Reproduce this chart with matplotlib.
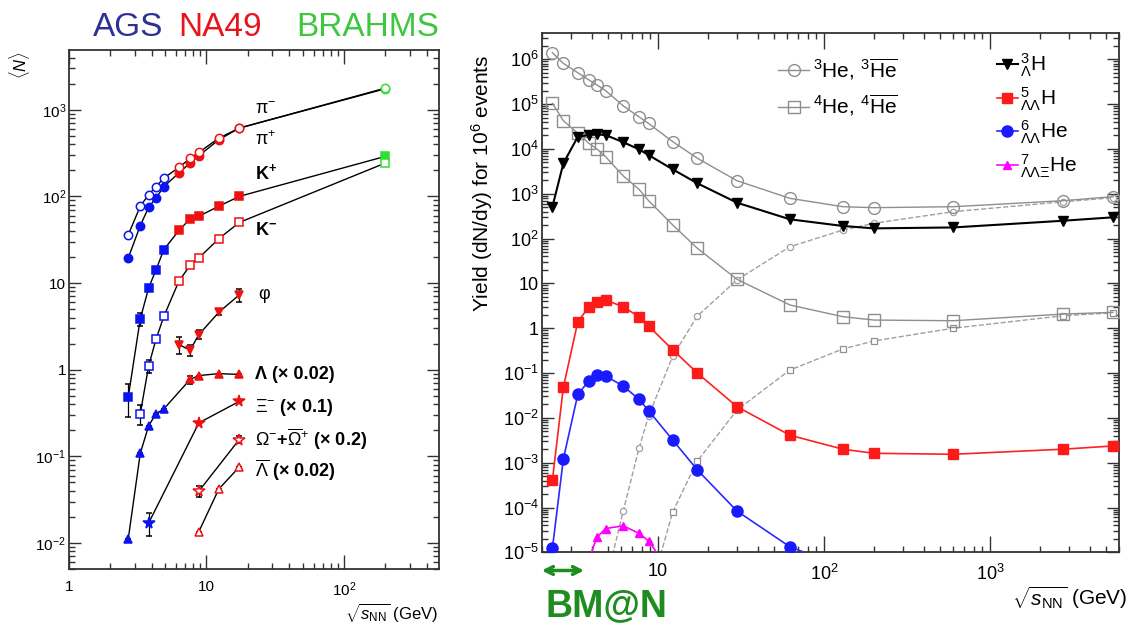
import numpy as np
import matplotlib.pyplot as plt
from matplotlib.ticker import LogLocator, FuncFormatter, NullFormatter

plt.rcParams['font.family'] = ['Liberation Sans', 'DejaVu Sans']
plt.rcParams['mathtext.fontset'] = 'custom'
plt.rcParams['mathtext.rm'] = 'Liberation Sans'
plt.rcParams['mathtext.it'] = 'Liberation Sans:italic'
plt.rcParams['mathtext.bf'] = 'Liberation Sans:bold'

nan = np.nan

# ---- left panel: mean multiplicities <N> vs sqrt(s_NN) ----
snn_left = [2.7, 3.3, 3.8, 4.3, 4.9, 6.3, 7.6, 8.8, 12.3, 17.3, 200]
experiment = ['AGS'] * 5 + ['NA49'] * 5 + ['BRAHMS']

pi_minus = [36, 77, 105, 130, 163, 216, 275, 322, 471, 614, 1780]
pi_plus = [19.5, 46, 75, 96, 130, 186, 243, 295, 451, 614, 1750]
k_plus = [0.485, 3.86, 8.8, 14.3, 24.3, 40.5, 55, 59, 77, 100, 290]
k_minus = [nan, 0.31, 1.11, 2.26, 4.13, 10.5, 16, 19.5, 32.5, 50, 243]
phi = [nan, nan, nan, nan, nan, 1.95, 1.68, 2.54, 4.6, 7.3, nan]
lam = [0.0112, 0.108, 0.226, 0.31, 0.353, nan, 0.77, 0.855, 0.9, 0.88, nan]
xi = [nan, nan, 0.017, nan, nan, nan, nan, 0.243, nan, 0.43, nan]
omega = [nan, nan, nan, nan, nan, nan, nan, 0.0396, nan, 0.156, nan]
lam_bar = [nan, nan, nan, nan, nan, nan, nan, 0.0135, 0.042, 0.075, nan]

k_plus_err = [0.2, 0.7, 0.6, 0.8, 0, 0, 0, 0, 0, 0, 0]
k_minus_err = [0, 0.08, 0.2, 0.2, 0, 0, 0, 0, 0, 0, 0]
phi_err = [0, 0, 0, 0, 0, 0.45, 0.25, 0.3, 0.3, 1.2, 0]
lam_err = [0, 0, 0, 0, 0, 0, 0.08, 0, 0, 0, 0]
xi_err = [0, 0, 0.005, 0, 0, 0, 0, 0, 0, 0, 0]
omega_err = [0, 0, 0, 0, 0, 0, 0, 0.006, 0, 0.015, 0]

exp_colors = {'AGS': '#0a14f0', 'NA49': '#ee1111', 'BRAHMS': '#33dd33'}

# ---- right panel: yields of light (hyper)nuclei for 10^6 events ----
snn_right = [2.32, 2.7, 3.3, 3.85, 4.3, 4.85, 6.2, 7.7, 8.8, 12.3, 17.3,
             30, 62.4, 130, 200, 600, 2760, 5500]
he3 = [1.4e6, 8.1e5, 5.0e5, 3.45e5, 2.67e5, 2.0e5, 9.1e4, 5.2e4, 3.7e4,
       1.45e4, 6.2e3, 1.95e3, 790, 514, 489, 514, 700, 860]
he4 = [1.04e5, 4.27e4, 2.23e4, 1.33e4, 9.95e3, 6.7e3, 2.49e3, 1.26e3, 700,
       201, 60.7, 12.3, 3.3, 1.81, 1.52, 1.47, 2.07, 2.26]
he3_bar = [nan, nan, nan, nan, nan, 2e-6, 8.5e-5, 2.09e-3, 0.011, 0.24,
           1.87, 12, 65.8, 155, 219, 398, 663, 815]
he4_bar = [nan, nan, nan, nan, nan, nan, nan, nan, 1e-6, 8e-5, 1.09e-3,
           0.015, 0.117, 0.344, 0.52, 1.0, 1.9, 2.2]
h3_l = [514, 4780, 1.87e4, 2.04e4, 2.1e4, 2.04e4, 1.41e4, 9.8e3, 7.3e3,
        3.5e3, 1.71e3, 631, 269, 191, 169, 177, 250, 298]
h5_ll = [4.1e-4, 0.048, 1.4, 3.0, 3.9, 4.25, 3.0, 1.8, 1.12, 0.33, 0.1,
         0.0177, 4.1e-3, 2.0e-3, 1.62e-3, 1.54e-3, 2.0e-3, 2.36e-3]
he6_ll = [1.23e-5, 1.21e-3, 0.0335, 0.067, 0.09, 0.086, 0.051, 0.026,
          0.0145, 3.2e-3, 6.9e-4, 8.3e-5, 1.33e-5, 4.7e-6, nan, nan, nan, nan]
he7_llxi = [nan, nan, nan, 7e-6, 2.16e-5, 3.4e-5, 3.9e-5, 2.65e-5, 1.8e-5,
            3e-6, nan, nan, nan, nan, nan, nan, nan, nan]
bmn_range = [2.0, 3.6]


def root_log_for(lo, hi):
    # ROOT style decade labels: 1, 10, 10^n; nothing outside the axis range
    def fmt(v, pos):
        if v < lo * 0.999 or v > hi * 1.001:
            return ''
        e = int(round(np.log10(v)))
        if e == 0:
            return '1'
        if e == 1:
            return '10'
        return r'$10^{%d}$' % e
    return FuncFormatter(fmt)


def style_axes(ax, xlim, ylim, xmaj, ymaj, minor, fs):
    ax.set_xscale('log')
    ax.set_yscale('log')
    ax.set_xlim(*xlim)
    ax.set_ylim(*ylim)
    for a, lims in ((ax.xaxis, xlim), (ax.yaxis, ylim)):
        a.set_major_locator(LogLocator(base=10, numticks=30))
        a.set_minor_locator(LogLocator(base=10, subs=np.arange(2, 10), numticks=30))
        a.set_major_formatter(root_log_for(*lims))
        a.set_minor_formatter(NullFormatter())
    ax.tick_params(which='both', direction='in', top=True, right=True,
                   width=1, color='#333333', labelsize=fs)
    ax.tick_params(axis='x', which='major', length=xmaj, pad=8)
    ax.tick_params(axis='y', which='major', length=ymaj, pad=2)
    ax.tick_params(which='minor', length=minor)
    for s in ax.spines.values():
        s.set_color('#333333')
        s.set_linewidth(1.3)


fig = plt.figure(figsize=(11.34, 6.27), dpi=100)

# ---------------- left panel ----------------
ax1 = fig.add_axes([0.0608, 0.0925, 0.3263, 0.8278])
style_axes(ax1, (1, 490), (0.005, 4900), 10, 8.5, 4.3, 11)

x_left = np.array(snn_left)
exp_arr = np.array(experiment)
# pi+ first so that the open pi- markers stay on top where they coincide
left_series = [
    (pi_plus, None, 'o', True),
    (pi_minus, None, 'o', False),
    (k_plus, k_plus_err, 's', True),
    (k_minus, k_minus_err, 's', False),
    (phi, phi_err, 'v', True),
    (lam, lam_err, '^', True),
    (xi, xi_err, '*', True),
    (omega, omega_err, '*', False),
    (lam_bar, None, '^', False),
]
for vals, err, mk, filled in left_series:
    y = np.array(vals, float)
    ok = ~np.isnan(y)
    ax1.plot(x_left[ok], y[ok], color='black', lw=1, zorder=2)
    e = np.zeros_like(y) if err is None else np.array(err, float)
    for name, col in exp_colors.items():
        m = ok & (exp_arr == name)
        if not m.any():
            continue
        ms = 8.5 if mk == '*' else 6
        ax1.errorbar(x_left[m], y[m], yerr=e[m], fmt=mk, ms=ms,
                     mfc=col if filled else 'white', mec=col, mew=1.1,
                     ecolor='black', elinewidth=0.9, capsize=2, zorder=3)

lab_kw = dict(transform=ax1.transAxes, va='center', ha='left', fontsize=13)
ax1.text(0.503, 0.886, 'π$^{-}$', **lab_kw)
ax1.text(0.503, 0.828, 'π$^{+}$', **lab_kw)
ax1.text(0.503, 0.763, r'$\mathbf{K^{+}}$', **lab_kw)
ax1.text(0.503, 0.653, r'$\mathbf{K^{-}}$', **lab_kw)
ax1.text(0.511, 0.528, 'φ', **lab_kw)
ax1.text(0.503, 0.374, 'Λ (× 0.02)', fontweight='bold', **lab_kw)
ax1.text(0.503, 0.312, r'$\Xi^{-}$ (× 0.1)', fontweight='bold', **lab_kw)
ax1.text(0.503, 0.249, r'$\Omega^{-}$+$\overline{\Omega}^{+}$ (× 0.2)',
         fontweight='bold', **lab_kw)
ax1.text(0.503, 0.191, r'$\overline{\Lambda}$ (× 0.02)', fontweight='bold', **lab_kw)

fig.text(20 / 1134, 1 - 65 / 627, r'$\langle N\rangle$', rotation=90,
         ha='center', va='center', fontsize=12)
fig.text(438 / 1134, 1 - 613 / 627, r'$\sqrt{s_{\mathrm{NN}}}$ (GeV)',
         ha='right', va='center', fontsize=12)

fig.text(93 / 1134, 1 - 27 / 627, 'AGS', color='#2e3192', fontsize=24,
         ha='left', va='center')
fig.text(178 / 1134, 1 - 27 / 627, 'NA49', color='#e8141b', fontsize=24,
         ha='left', va='center')
fig.text(296 / 1134, 1 - 27 / 627, 'BRAHMS', color='#3ec63e', fontsize=24,
         ha='left', va='center')

# ---------------- right panel ----------------
ax2 = fig.add_axes([0.4777, 0.1191, 0.5093, 0.8278])
style_axes(ax2, (2, 6000), (1e-5, 3.8e6), 11.5, 8.5, 4.5, 13)

xr = np.array(snn_right)


def plot_r(vals, **kw):
    y = np.array(vals, float)
    ok = ~np.isnan(y)
    return ax2.plot(xr[ok], y[ok], **kw)[0]


gray = '#8e8e8e'
plot_r(he3_bar, color='#a0a0a0', lw=1, ls='--', marker='o', ms=4.5,
       mfc='white', mec='#a0a0a0', mew=0.9, zorder=2)
plot_r(he4_bar, color='#a0a0a0', lw=1, ls='--', marker='s', ms=4.5,
       mfc='white', mec='#909090', mew=0.9, zorder=2)
l_he3 = plot_r(he3, color=gray, lw=1, marker='o', ms=8.5, mfc='none',
               mec=gray, mew=1, zorder=3)
l_he4 = plot_r(he4, color=gray, lw=1, marker='s', ms=8, mfc='none',
               mec=gray, mew=1, zorder=3)
l_h3 = plot_r(h3_l, color='black', lw=1.5, marker='v', ms=7.5,
              mfc='black', mec='black', zorder=4)
l_h5 = plot_r(h5_ll, color='#ff2020', lw=1.2, marker='s', ms=7.5,
              mfc='#ff1a1a', mec='#ff1a1a', zorder=4)
l_he6 = plot_r(he6_ll, color='#2a2aff', lw=1.2, marker='o', ms=8,
               mfc='#1a1aff', mec='#1a1aff', zorder=4)
l_he7 = plot_r(he7_llxi, color='#ff00ff', lw=1.2, marker='^', ms=6,
               mfc='#ff00ff', mec='#ff00ff', zorder=4)

leg1 = ax2.legend([l_he3, l_he4],
                  [r'$^{3}$He, $^{3}\overline{\mathrm{He}}$',
                   r'$^{4}$He, $^{4}\overline{\mathrm{He}}$'],
                  loc='upper left', bbox_to_anchor=(0.409, 0.955),
                  frameon=False, fontsize=15, handlelength=1.5,
                  handletextpad=0.2, labelspacing=0.55, borderpad=0,
                  borderaxespad=0, numpoints=1)
ax2.add_artist(leg1)
ax2.legend([l_h3, l_h5, l_he6, l_he7],
           [r'${}^{3}_{\Lambda}$H', r'${}^{5}_{\Lambda\Lambda}$H',
            r'${}^{6}_{\Lambda\Lambda}$He', r'${}^{7}_{\Lambda\Lambda\Xi}$He'],
           loc='upper left', bbox_to_anchor=(0.788, 0.965),
           frameon=False, fontsize=15, handlelength=1.0,
           handletextpad=0.1, labelspacing=0.3, borderpad=0,
           borderaxespad=0, numpoints=1)

ax2.annotate('', xy=(bmn_range[0], -0.035), xytext=(bmn_range[1], -0.035),
             xycoords=('data', 'axes fraction'),
             textcoords=('data', 'axes fraction'),
             arrowprops=dict(arrowstyle='<->', color='#1e8c1e', lw=2.5,
                             mutation_scale=14, shrinkA=0, shrinkB=0),
             annotation_clip=False)

fig.text(482 / 1134, 1 - 183 / 627, r'Yield (dN/dy) for 10$^{6}$ events',
         rotation=90, ha='center', va='center', fontsize=15)
fig.text(1127 / 1134, 1 - 598 / 627, r'$\sqrt{s_{\mathrm{NN}}}$ (GeV)',
         ha='right', va='center', fontsize=15)
fig.text(545 / 1134, 1 - 606 / 627, 'BM@N', color='#1e8c1e', fontsize=27,
         fontweight='bold', ha='left', va='center')

fig.savefig('out.png', dpi=100)
